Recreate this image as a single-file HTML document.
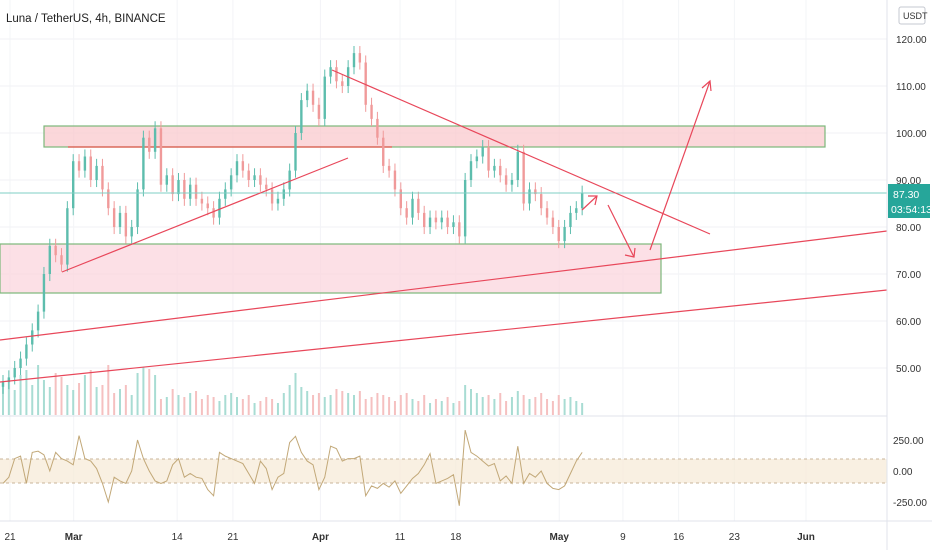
<!DOCTYPE html>
<html><head><meta charset="utf-8">
<style>
html,body{margin:0;padding:0;background:#fff;}
body{width:932px;height:550px;overflow:hidden;font-family:"Liberation Sans",sans-serif;}
svg text{font-family:"Liberation Sans",sans-serif;}
</style></head>
<body>
<svg id="chart" width="932" height="550" xmlns="http://www.w3.org/2000/svg">
  <g id="grid"></g>
  <rect x="44" y="126" width="781" height="21" fill="#f9c9ce" fill-opacity="0.75" stroke="#7cb77a" stroke-width="1.2"/>
  <rect x="0" y="244" width="661" height="49" fill="#fbd3dc" fill-opacity="0.7" stroke="#7cb77a" stroke-width="1.2"/>
  <line x1="68" y1="147" x2="392" y2="147" stroke="#e2574c" stroke-width="1.3"/>
  <g id="volume"></g>
  <g id="candles"></g>
  <line x1="0" y1="193" x2="887" y2="193" stroke="#7fcfc4" stroke-width="1"/>
  <g stroke="#e8475a" stroke-width="1.2" fill="none">
    <line x1="62" y1="272" x2="348" y2="158"/>
    <line x1="332" y1="70" x2="710" y2="234"/>
    <line x1="0" y1="340" x2="887" y2="231"/>
    <line x1="0" y1="382" x2="887" y2="290"/>
    <g><line x1="582" y1="210" x2="597" y2="196"/><polyline points="588,196 597,196 595,205"/></g>
    <g><line x1="608" y1="205" x2="634" y2="257"/><polyline points="625,255 634,257 635,248"/></g>
    <g><line x1="650" y1="250" x2="710" y2="81"/><polyline points="702,88 710,81 711,91"/></g>
  </g>
  <g id="cci">
    <rect x="0" y="459" width="887" height="24" fill="#f6ead6" fill-opacity="0.7"/>
    <line x1="0" y1="459" x2="887" y2="459" stroke="#c9b59a" stroke-dasharray="3,3"/>
    <line x1="0" y1="483" x2="887" y2="483" stroke="#c9b59a" stroke-dasharray="3,3"/>
  </g>
  <line x1="0" y1="416" x2="887" y2="416" stroke="#e0e3eb"/>
  <line x1="0" y1="521" x2="932" y2="521" stroke="#e0e3eb"/>
  <line x1="887" y1="0" x2="887" y2="550" stroke="#e0e3eb"/>
  <g id="yaxis" font-size="10" fill="#333"></g>
  <g id="xaxis" font-size="10" fill="#333"></g>
  <g font-size="10" fill="#333">
    <text x="893" y="444">250.00</text><text x="893" y="475">0.00</text><text x="893" y="506">-250.00</text>
  </g>
  <g>
    <rect x="888" y="184" width="42" height="34" fill="#26a69a"/>
    <text x="893" y="198" font-size="10.5" fill="#fff">87.30</text>
    <text x="891" y="213" font-size="10.5" fill="#fff">03:54:13</text>
  </g>
  <g>
    <rect x="899" y="7" width="26" height="17" rx="2" fill="#fff" stroke="#c5c8d0"/>
    <text x="903" y="19" font-size="9" fill="#333">USDT</text>
  </g>
  <text x="6" y="22" font-size="11.5" fill="#222">Luna / TetherUS, 4h, BINANCE</text>
</svg>
<script>
const closes=[47,48,50,52,55,58,62,70,76,74,72,84,94,92,95,90,93,88,84,80,83,78,80,88,99,96,101,89,91,87,90,86,89,86,85,84,82,86,88,91,94,92,90,91,89,88,85,86,88,92,100,107,109,106,103,112,114,111,110,114,117,115,106,103,99,93,92,88,84,82,86,83,80,82,81,82,80,81,78,90,94,95,97,92,93,91,89,90,96,85,88,87,84,82,80,77,80,83,84,87.3];
const volumes=[30,35,25,40,45,30,50,35,28,42,38,30,25,32,40,45,28,30,50,22,26,30,20,42,48,46,40,16,18,26,20,18,22,24,16,20,18,14,20,22,18,16,20,12,14,18,16,12,22,30,42,28,24,20,22,18,20,26,24,22,20,24,16,18,22,20,18,14,20,22,16,14,20,12,16,14,18,12,14,30,26,22,18,20,16,22,14,18,24,20,16,18,22,16,14,20,16,18,14,12];
const cciValues=[-100,-50,100,120,-100,150,160,130,0,150,100,80,50,285,100,80,20,-100,-250,-50,-80,-100,0,250,100,0,-80,-100,-80,50,100,-50,-20,-50,-60,-150,-200,150,120,100,80,60,-20,-100,80,20,-150,-50,-20,230,280,150,80,50,-150,-50,200,180,80,100,100,120,-200,-120,-140,-100,-130,-80,-180,-120,-60,-20,50,140,-100,-80,-60,-30,-280,330,150,120,80,40,60,-80,-40,-100,200,-100,-20,-50,0,-100,-140,-150,-120,-20,80,150];
const priceTicks=[120,110,100,90,80,70,60,50];
const dateLabels=["21","Mar","14","21","Apr","11","18","May","9","16","23","Jun"];
const dateDays=[0,8,21,28,39,49,56,69,77,84,91,100];

const NS="http://www.w3.org/2000/svg";
const py=p=>133+(100-p)*4.7;
const ix=i=>3+i*5.85;
const dx=d=>10+d*7.96;
const cy=v=>471-v*31/250;
const vy=v=>415-v;
function mk(tag,attrs,parent){const e=document.createElementNS(NS,tag);for(const k in attrs)e.setAttribute(k,attrs[k]);parent.appendChild(e);return e;}

const grid=document.getElementById('grid');
priceTicks.forEach(p=>{const l=mk('line',{x1:0,x2:887,y1:py(p),y2:py(p),stroke:'#f0f2f5'},grid);

});
dateDays.forEach(d=>{const l=mk('line',{x1:dx(d),x2:dx(d),y1:0,y2:521,stroke:'#f3f4f7'},grid);

});

const ya=document.getElementById('yaxis');
priceTicks.forEach(p=>{const t=mk('text',{x:896,y:py(p)+4},ya);t.textContent=p.toFixed(2);

});
const xa=document.getElementById('xaxis');
dateLabels.forEach((s,i)=>{const t=mk('text',{x:dx(dateDays[i]),y:540,'text-anchor':'middle','font-weight':(isNaN(+s)?'bold':'normal')},xa);t.textContent=s;

});

const cg=document.getElementById('candles'), vg=document.getElementById('volume');
closes.forEach((c,i)=>{
  const o=i?closes[i-1]:c-1;const up=c>=o;const col=up?'#5dbdad':'#f09a9a';
  const x=ix(i);const hi=Math.max(o,c)+1.5, lo=Math.min(o,c)-1.5;
  const w=mk('line',{x1:x,x2:x,y1:py(hi),y2:py(lo),stroke:col,'stroke-width':1},cg);
  
  
  const top=py(Math.max(o,c)),bot=py(Math.min(o,c));
  const b=mk('rect',{x:x-1.2,y:top,width:2.4,height:Math.max(1,bot-top),fill:col},cg);
  
  
  const v=volumes[i];
  const vb=mk('rect',{x:x-1,y:vy(v),width:2,height:v,fill:up?'#a8dcd3':'#f5c0c0'},vg);
  
  
});
const cci=document.getElementById('cci');
const pl=mk('polyline',{points:cciValues.map((v,i)=>ix(i)+','+cy(v)).join(' '),fill:'none',stroke:'#c2a878','stroke-width':1},cci);


</script>
</body></html>
